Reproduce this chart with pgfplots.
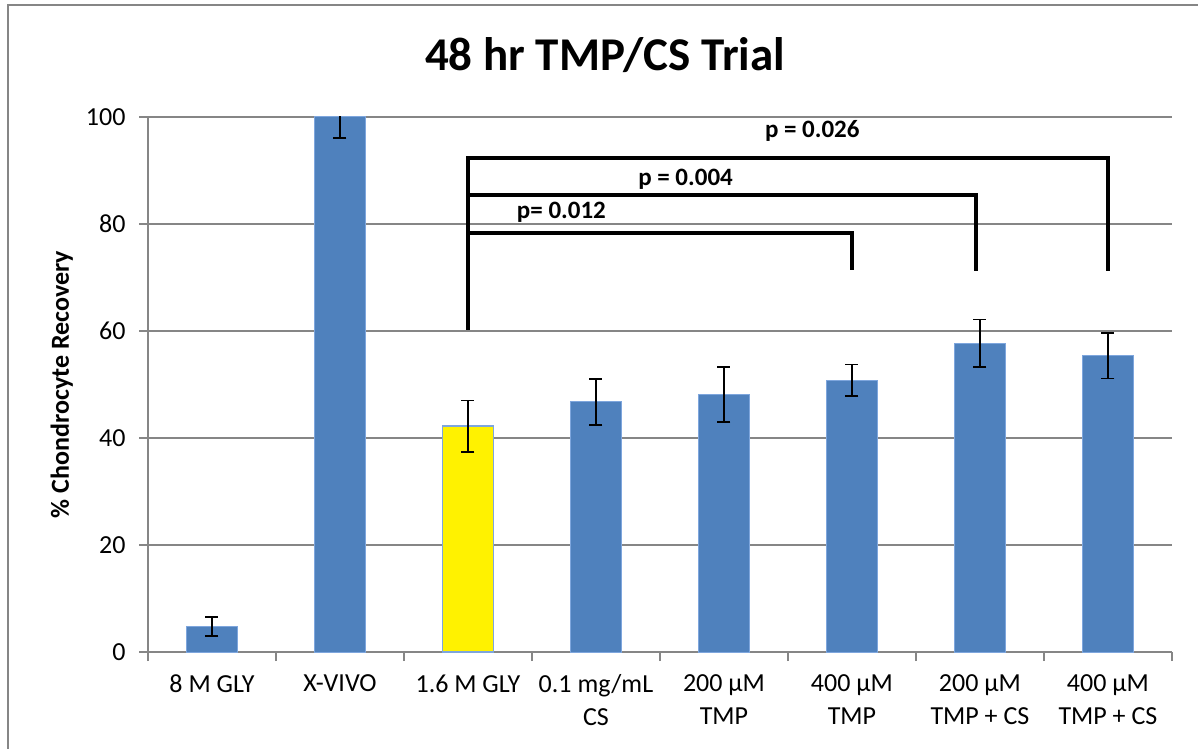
\documentclass[border=0pt]{standalone}
\usepackage{fontspec}
\setmainfont{Carlito}
\usepackage{pgfplots}
\pgfplotsset{compat=1.18}
\definecolor{barblue}{RGB}{79,129,189}
\definecolor{baredge}{RGB}{126,166,221}
\definecolor{gridgray}{RGB}{134,134,134}
\begin{document}
\begin{tikzpicture}[x=1pt,y=1pt]
\draw[gridgray, line width=1.5pt] (8,-5) -- (8,743) -- (1205,743);
\node[font=\fontsize{47}{56}\selectfont\bfseries] at (605,693) {48 hr TMP/CS Trial};
\begin{axis}[
  at={(148pt,96pt)}, anchor=south west,
  width=1024pt, height=535pt, scale only axis,
  xmin=-0.5, xmax=7.5, ymin=0, ymax=100,
  axis x line*=bottom, axis y line*=left,
  axis line style={draw=gridgray, line width=1.5pt},
  ytick={0,20,...,100},
  ymajorgrids, grid style={draw=gridgray, line width=1.5pt},
  xtick={0,...,7},
  xticklabels={8 M GLY, X-VIVO, 1.6 M GLY, {0.1 mg/mL\\CS}, {200 µM\\TMP}, {400 µM\\TMP}, {200 µM\\TMP + CS}, {400 µM\\TMP + CS}},
  minor xtick={-0.5,0.5,...,7.5},
  tick align=outside,
  major x tick style={draw=none},
  minor x tick style={draw=gridgray, line width=1.5pt},
  minor tick length=9pt,
  major tick length=9pt,
  y tick style={draw=gridgray, line width=1.5pt},
  tick label style={font=\fontsize{26}{33}\selectfont},
  xticklabel style={align=center, anchor=north, yshift=-10pt},
  yticklabel style={xshift=-10pt},
  /pgf/number format/assume math mode=true,
  ylabel={\bfseries \% Chondrocyte Recovery},
  ylabel style={font=\fontsize{26}{30}\selectfont, yshift=6pt},
  ybar, bar width=51pt, bar shift=0pt,
  clip=true,
  error bars/y dir=both, error bars/y explicit,
  error bars/error bar style={black, line width=1.8pt},
  error bars/error mark options={rotate=90, mark size=6.5pt, black, line width=1.8pt},
]
\addplot[fill=barblue, draw=baredge, line width=1pt] coordinates {
  (0,4.8) +- (0,1.78)
  (1,100) +- (0,4.0)
  (3,46.8) +- (0,4.3)
  (4,48.1) +- (0,5.1)
  (5,50.8) +- (0,2.95)
  (6,57.7) +- (0,4.45)
  (7,55.4) +- (0,4.27)
};
\addplot[fill=yellow, draw=baredge, line width=1.5pt] coordinates {
  (2,42.2) +- (0,4.8)
};
\draw[black, line width=3.5pt, line join=miter] (axis cs:2,60.2) -- (axis cs:2,92.3) -- (axis cs:7,92.3) -- (axis cs:7,71.2);
\draw[black, line width=3.5pt, line join=miter] (axis cs:2,85.4) -- (axis cs:5.97,85.4) -- (axis cs:5.97,71.2);
\draw[black, line width=3.5pt, line join=miter] (axis cs:2,78.3) -- (axis cs:5,78.3) -- (axis cs:5,71.4);
\node[font=\fontsize{25}{30}\selectfont\bfseries] at (axis cs:4.69,97.4) {p = 0.026};
\node[font=\fontsize{25}{30}\selectfont\bfseries] at (axis cs:3.70,88.4) {p = 0.004};
\node[font=\fontsize{25}{30}\selectfont\bfseries] at (axis cs:2.73,82.1) {p= 0.012};
\end{axis}
\pgfresetboundingbox
\useasboundingbox (0,0) rectangle (1198,748);
\end{tikzpicture}
\end{document}
